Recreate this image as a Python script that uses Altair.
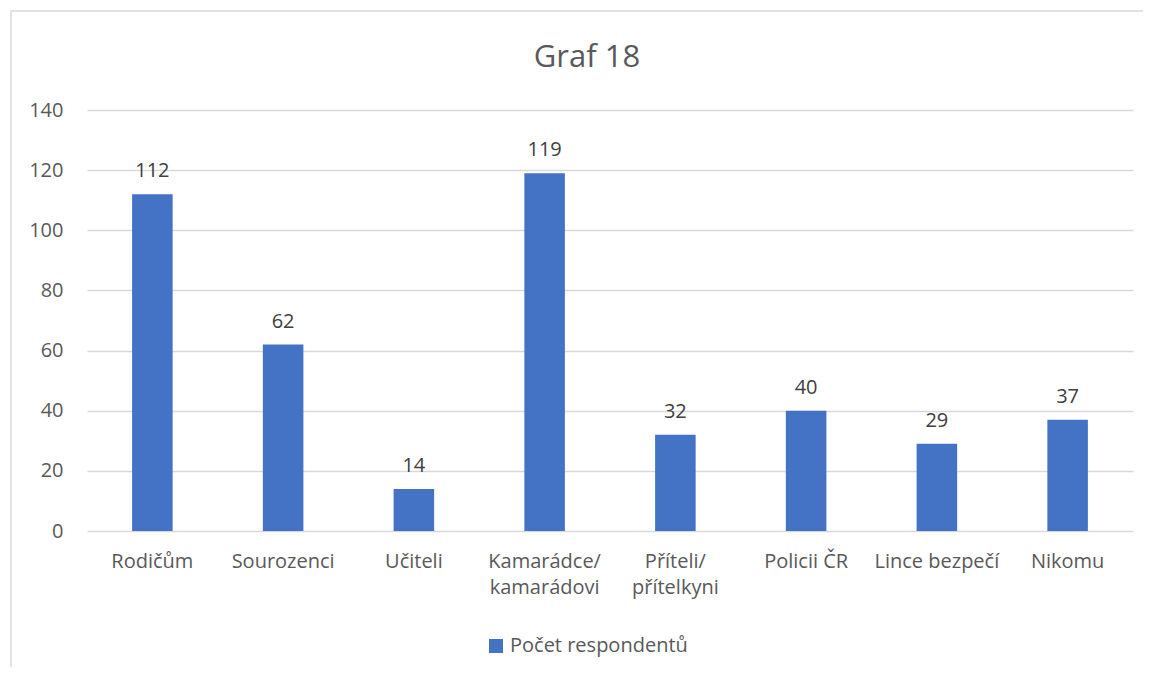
import altair as alt
import pandas as pd

categories = ["Rodičům", "Sourozenci", "Učiteli", "Kamarádce/|kamarádovi",
              "Příteli/|přítelkyni", "Policii ČR", "Lince bezpečí", "Nikomu"]
values = [112, 62, 14, 119, 32, 40, 29, 37]
series_name = "Počet respondentů"
y_ticks = [0, 20, 40, 60, 80, 100, 120, 140]
chart_title = "Graf 18"

df = pd.DataFrame({"cat": categories, "val": values, "series": series_name})

FONT = "Open Sans"
BLUE = "#4472C4"
GRAY_TXT = "#595959"

x_enc = alt.X("cat:N", sort=categories, title=None,
              scale=alt.Scale(paddingInner=0.69, paddingOuter=0.345),
              axis=alt.Axis(labelAngle=0, domain=False, ticks=False,
                            labelFont=FONT, labelFontSize=20, labelColor=GRAY_TXT,
                            labelPadding=20, labelLineHeight=26,
                            labelExpr="split(datum.label, '|')"))
y_enc = alt.Y("val:Q", title=None,
              scale=alt.Scale(domain=[0, 140], nice=False),
              axis=alt.Axis(values=y_ticks, domain=False, ticks=False,
                            gridColor="#D9D9D9", gridWidth=1.5,
                            labelFont=FONT, labelFontSize=20, labelColor=GRAY_TXT,
                            labelPadding=24))

base = alt.Chart(df)

bars = base.mark_bar().encode(
    x=x_enc, y=y_enc,
    color=alt.Color("series:N", title=None,
                    scale=alt.Scale(domain=[series_name], range=[BLUE]),
                    legend=alt.Legend(orient="none", legendX=399, legendY=526,
                                      symbolType="square", symbolSize=196,
                                      symbolStrokeWidth=0, labelOffset=4,
                                      labelLimit=400,
                                      labelFont=FONT, labelFontSize=20,
                                      labelColor=GRAY_TXT)),
)

labels = base.mark_text(font=FONT, fontSize=20, color="#404040",
                        baseline="alphabetic", dy=-17).encode(
    x=alt.X("cat:N", sort=categories),
    y="val:Q",
    text="val:Q",
)

frame = pd.DataFrame({"a": [0]})
border_left = alt.Chart(frame).mark_rule(color="#D9D9D9", strokeWidth=1.5).encode(
    x=alt.value(-76), y=alt.value(-99), y2=alt.value(600))
border_top = alt.Chart(frame).mark_rule(color="#D9D9D9", strokeWidth=1.5).encode(
    x=alt.value(-76), x2=alt.value(1100), y=alt.value(-99))

title_mark = alt.Chart(pd.DataFrame({"t": [chart_title]})).mark_text(
    font=FONT, fontSize=31, color=GRAY_TXT, align="center", baseline="alphabetic"
).encode(x=alt.value(500), y=alt.value(-43), text="t:N")

chart = alt.layer(bars, labels, border_left, border_top, title_mark).properties(
    width=1046, height=421,
    autosize=alt.AutoSizeParams(type="none"),
    padding={"left": 79, "top": 102, "right": 10, "bottom": 136},
).configure_view(stroke=None)

chart.save("out.html", embed_options={"renderer": "svg", "actions": False})
